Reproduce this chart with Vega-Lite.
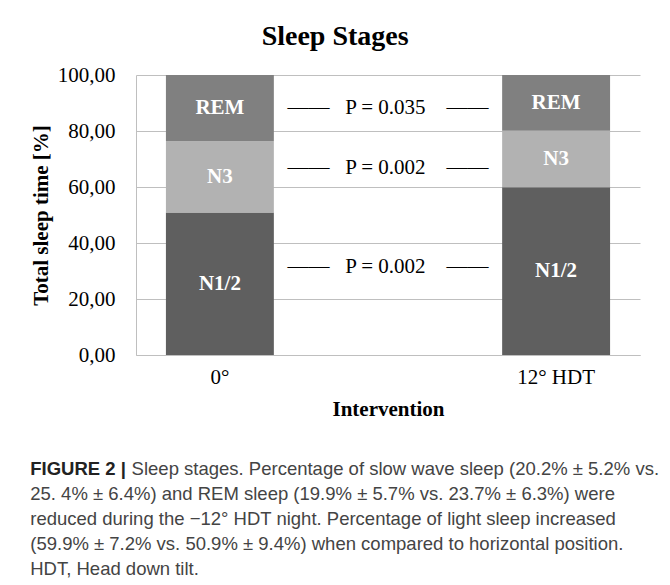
{
  "$schema": "https://vega.github.io/schema/vega-lite/v6.json",
  "background": "white",
  "padding": {"left": 30, "top": 23, "right": 5, "bottom": 3},
  "config": {
    "view": {"stroke": null},
    "font": "Liberation Serif"
  },
  "datasets": {
    "stages": [
      {"cond": "0°", "stage": "N1/2", "ord": 1, "pct": 50.9},
      {"cond": "0°", "stage": "N3", "ord": 2, "pct": 25.4},
      {"cond": "0°", "stage": "REM", "ord": 3, "pct": 23.7},
      {"cond": "12° HDT", "stage": "N1/2", "ord": 1, "pct": 59.9},
      {"cond": "12° HDT", "stage": "N3", "ord": 2, "pct": 20.2},
      {"cond": "12° HDT", "stage": "REM", "ord": 3, "pct": 19.9}
    ],
    "pvals": [
      {"stage": "REM", "label": "——\u00a0\u00a0\u00a0P = 0.035\u00a0\u00a0\u00a0\u00a0——", "level": 88.2},
      {"stage": "N3", "label": "——\u00a0\u00a0\u00a0P = 0.002\u00a0\u00a0\u00a0\u00a0——", "level": 66.8},
      {"stage": "N1/2", "label": "——\u00a0\u00a0\u00a0P = 0.002\u00a0\u00a0\u00a0\u00a0——", "level": 31.4}
    ]
  },
  "title": {
    "text": "FIGURE 2 |",
    "orient": "bottom",
    "anchor": "start",
    "frame": "bounds",
    "offset": 41,
    "font": "Liberation Sans",
    "fontSize": 18.5,
    "fontWeight": "bold",
    "color": "#222222",
    "subtitle": [
      "\u200b\u00a0\u00a0\u00a0\u00a0\u00a0\u00a0\u00a0\u00a0\u00a0\u00a0\u00a0\u00a0\u00a0\u00a0\u00a0\u00a0\u00a0\u00a0\u00a0\u2009Sleep stages. Percentage of slow wave sleep (20.2% ± 5.2% vs.",
      "25. 4% ± 6.4%) and REM sleep (19.9% ± 5.7% vs. 23.7% ± 6.3%) were",
      "reduced during the −12° HDT night. Percentage of light sleep increased",
      "(59.9% ± 7.2% vs. 50.9% ± 9.4%) when compared to horizontal position.",
      "HDT, Head down tilt."
    ],
    "subtitleFont": "Liberation Sans",
    "subtitleFontSize": 18.5,
    "subtitleFontWeight": "normal",
    "subtitleColor": "#444444",
    "subtitleLineHeight": 25,
    "subtitlePadding": -18.5
  },
  "vconcat": [
    {
      "title": {
        "text": "Sleep Stages",
        "font": "Liberation Serif",
        "fontSize": 28,
        "fontWeight": "bold",
        "color": "black",
        "anchor": "middle",
        "frame": "bounds",
        "offset": 13
      },
      "width": 504,
      "height": 280,
      "layer": [
        {
          "data": {"name": "stages"},
          "mark": {"type": "bar"},
          "encoding": {
            "x": {
              "field": "cond",
              "type": "nominal",
              "sort": ["0°", "12° HDT"],
              "scale": {"paddingInner": 0.679, "paddingOuter": 0.089},
              "axis": {
                "title": "Intervention",
                "labelAngle": 0,
                "labelFont": "Liberation Serif",
                "labelFontSize": 21,
                "labelColor": "black",
                "labelPadding": 11,
                "ticks": false,
                "domain": true,
                "domainColor": "#bfbfbf",
                "domainWidth": 1,
                "titleFont": "Liberation Serif",
                "titleFontSize": 21,
                "titleFontWeight": "bold",
                "titleColor": "black",
                "titlePadding": 11
              }
            },
            "y": {
              "field": "pct",
              "type": "quantitative",
              "stack": "zero",
              "scale": {"domain": [0, 100], "nice": false},
              "axis": {
                "title": "Total sleep time [%]",
                "values": [0, 20, 40, 60, 80, 100],
                "labelExpr": "replace(format(datum.value, '.2f'), '.', ',')",
                "labelFont": "Liberation Serif",
                "labelFontSize": 21,
                "labelColor": "black",
                "labelPadding": 21,
                "ticks": false,
                "domain": true,
                "domainColor": "#bfbfbf",
                "grid": true,
                "gridColor": "#bfbfbf",
                "gridWidth": 1,
                "titleFont": "Liberation Serif",
                "titleFontSize": 21,
                "titleFontWeight": "bold",
                "titleColor": "black",
                "titlePadding": 6
              }
            },
            "color": {
              "field": "stage",
              "type": "nominal",
              "scale": {"domain": ["N1/2", "N3", "REM"], "range": ["#5f5f5f", "#b2b2b2", "#808080"]},
              "legend": null
            },
            "order": {"field": "ord", "type": "quantitative"}
          }
        },
        {
          "data": {"name": "stages"},
          "mark": {"type": "text", "color": "white", "font": "Liberation Serif", "fontSize": 21, "fontWeight": "bold", "baseline": "middle"},
          "encoding": {
            "x": {"field": "cond", "type": "nominal", "sort": ["0°", "12° HDT"]},
            "y": {"field": "pct", "type": "quantitative", "stack": "zero", "bandPosition": 0.5},
            "detail": {"field": "stage", "type": "nominal"},
            "order": {"field": "ord", "type": "quantitative"},
            "text": {"field": "stage", "type": "nominal"}
          }
        },
        {
          "data": {"name": "pvals"},
          "mark": {"type": "text", "color": "black", "font": "Liberation Serif", "fontSize": 21, "baseline": "middle", "align": "center"},
          "encoding": {
            "y": {"field": "level", "type": "quantitative"},
            "text": {"field": "label", "type": "nominal"}
          }
        }
      ]
    }
  ]
}
